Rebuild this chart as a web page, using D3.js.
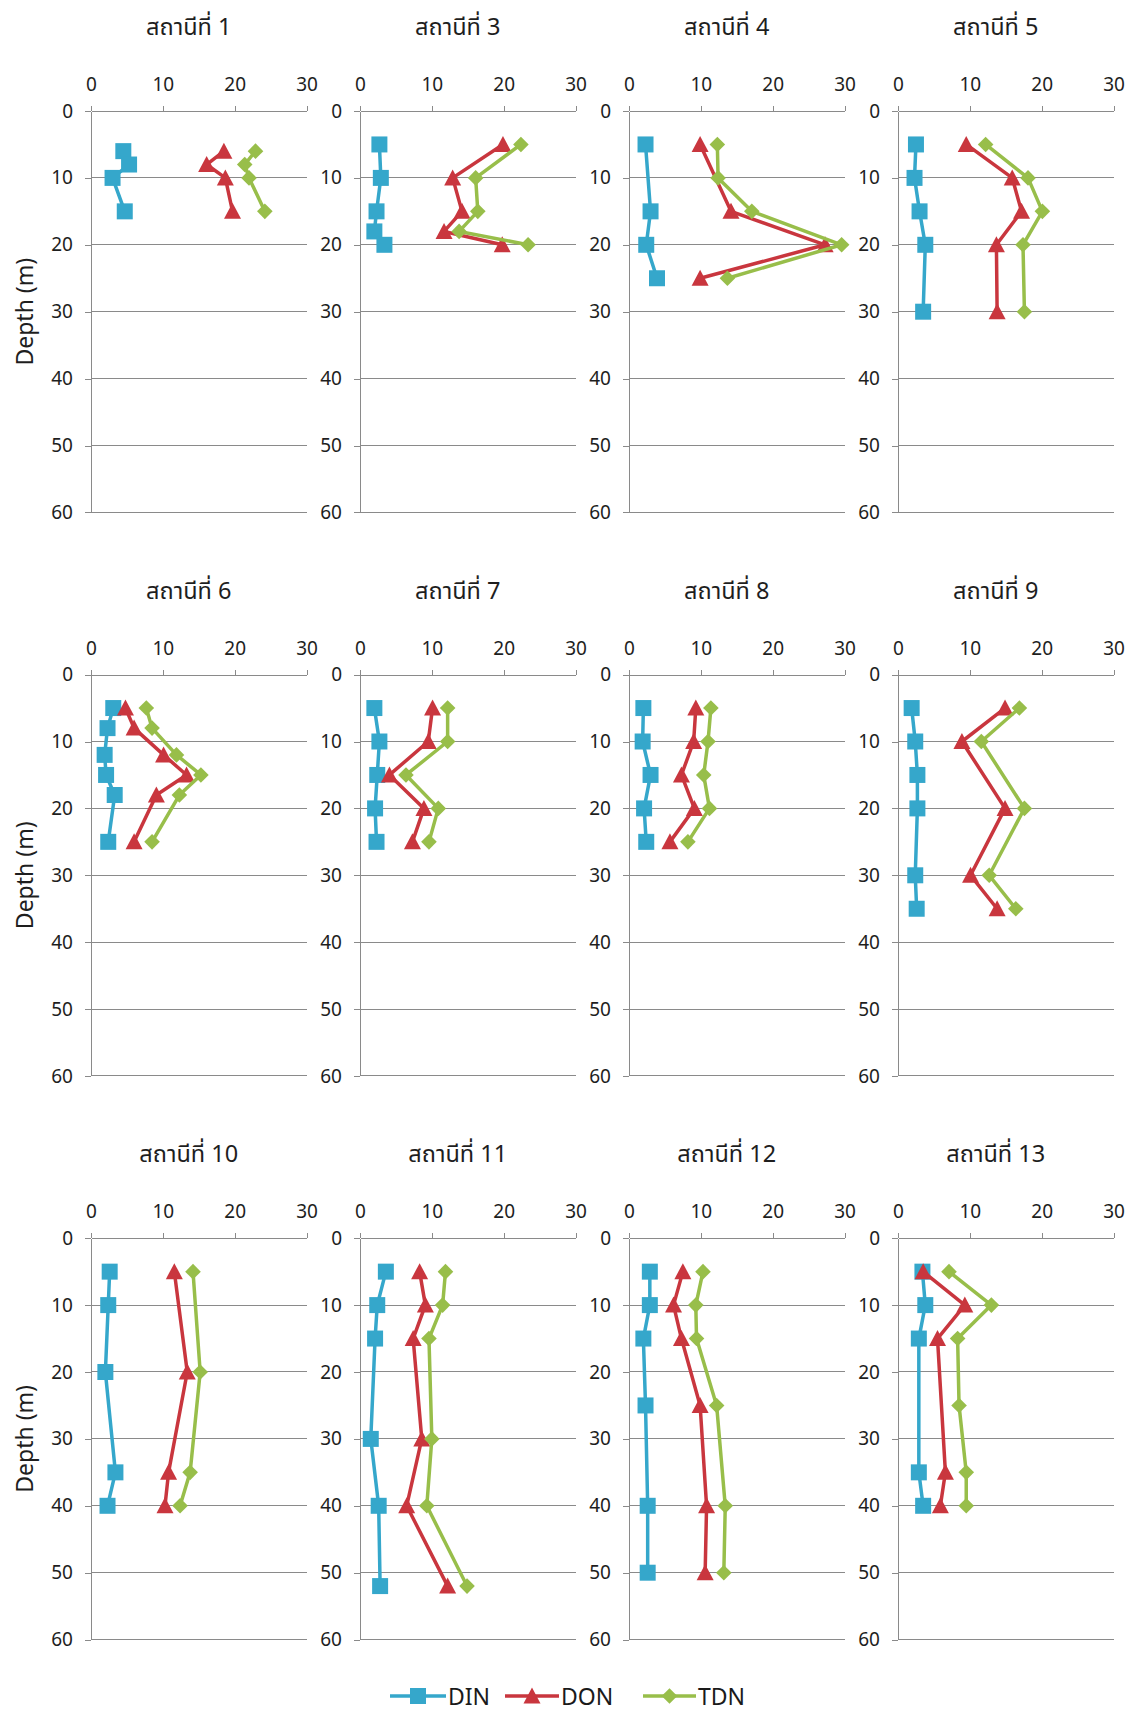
<!DOCTYPE html>
<html>
<head>
<meta charset="utf-8">
<script src="https://cdn.jsdelivr.net/npm/d3@7/dist/d3.min.js"></script>
<style>
  html, body { margin: 0; padding: 0; background: #ffffff; }
  svg { display: block; }
</style>
</head>
<body>
<svg id="chart" width="1139" height="1711"></svg>
<script>
// ---------------- data ----------------
const stations = ["สถานีที่ 1", "สถานีที่ 3", "สถานีที่ 4", "สถานีที่ 5",
                  "สถานีที่ 6", "สถานีที่ 7", "สถานีที่ 8", "สถานีที่ 9",
                  "สถานีที่ 10", "สถานีที่ 11", "สถานีที่ 12", "สถานีที่ 13"];
const seriesNames = ["DIN", "DON", "TDN"];

// depth (m) of each sample, per station
const dinDepth = [[6, 8, 10, 15], [5, 10, 15, 18, 20], [5, 15, 20, 25], [5, 10, 15, 20, 30],
                  [5, 8, 12, 15, 18, 25], [5, 10, 15, 20, 25], [5, 10, 15, 20, 25], [5, 10, 15, 20, 30, 35],
                  [5, 10, 20, 35, 40], [5, 10, 15, 30, 40, 52], [5, 10, 15, 25, 40, 50], [5, 10, 15, 35, 40]];
const dinValue = [[4.5, 5.3, 3.0, 4.7], [2.7, 2.9, 2.3, 2.0, 3.4], [2.3, 3.0, 2.4, 3.9], [2.5, 2.3, 3.0, 3.8, 3.5],
                  [3.1, 2.3, 1.9, 2.1, 3.3, 2.4], [2.0, 2.7, 2.4, 2.1, 2.3], [2.0, 1.9, 3.0, 2.1, 2.4], [1.9, 2.4, 2.7, 2.7, 2.4, 2.6],
                  [2.6, 2.4, 2.0, 3.4, 2.3], [3.6, 2.4, 2.1, 1.5, 2.6, 2.8], [2.9, 2.9, 2.0, 2.3, 2.6, 2.6], [3.4, 3.8, 2.9, 2.9, 3.5]];

const donDepth = [[6, 8, 10, 15], [5, 10, 15, 18, 20], [5, 15, 20, 25], [5, 10, 15, 20, 30],
                  [5, 8, 12, 15, 18, 25], [5, 10, 15, 20, 25], [5, 10, 15, 20, 25], [5, 10, 20, 30, 35],
                  [5, 20, 35, 40], [5, 10, 15, 30, 40, 52], [5, 10, 15, 25, 40, 50], [5, 10, 15, 35, 40]];
const donValue = [[18.5, 16.1, 18.7, 19.7], [19.9, 12.9, 14.2, 11.7, 19.8], [9.9, 14.2, 27.3, 9.9], [9.5, 15.9, 17.2, 13.7, 13.8],
                  [4.8, 6.0, 10.1, 13.3, 9.1, 6.0], [10.1, 9.5, 4.1, 8.9, 7.3], [9.3, 9.0, 7.3, 9.1, 5.7], [14.9, 8.9, 14.9, 10.1, 13.8],
                  [11.6, 13.4, 10.8, 10.3], [8.3, 9.1, 7.4, 8.6, 6.5, 12.2], [7.5, 6.2, 7.3, 9.9, 10.8, 10.6], [3.5, 9.3, 5.5, 6.6, 5.9]];

const tdnDepth = [[6, 8, 10, 15], [5, 10, 15, 18, 20], [5, 10, 15, 20, 25], [5, 10, 15, 20, 30],
                  [5, 8, 12, 15, 18, 25], [5, 10, 15, 20, 25], [5, 10, 15, 20, 25], [5, 10, 20, 30, 35],
                  [5, 20, 35, 40], [5, 10, 15, 30, 40, 52], [5, 10, 15, 25, 40, 50], [5, 10, 15, 25, 35, 40]];
const tdnValue = [[22.9, 21.4, 22.0, 24.2], [22.4, 16.1, 16.4, 13.8, 23.4], [12.3, 12.4, 17.1, 29.6, 13.7], [12.2, 18.1, 20.1, 17.4, 17.6],
                  [7.7, 8.5, 11.9, 15.3, 12.3, 8.5], [12.2, 12.2, 6.4, 10.9, 9.6], [11.4, 11.0, 10.4, 11.2, 8.2], [16.9, 11.6, 17.6, 12.7, 16.4],
                  [14.2, 15.2, 13.8, 12.4], [11.9, 11.5, 9.6, 10.0, 9.3, 14.9], [10.3, 9.3, 9.4, 12.2, 13.4, 13.2], [7.1, 13.0, 8.3, 8.5, 9.5, 9.5]];

const xTicks = [0, 10, 20, 30];
const yTicks = [0, 10, 20, 30, 40, 50, 60];
const yTitle = "Depth (m)";

// ---------------- layout / style ----------------
const colors = ["#35a7cb", "#c9363e", "#98be4a"];
const shapes = ["square", "triangle", "diamond"];
const plotW = 215.5, plotH = 401.4;
const colStep = 269, rowStep = 563.6;
const left0 = 91, top0 = 111;
const gridColor = "#8a8a8a";
const textColor = "#1e1e1e";
const tickFont = "'Noto Sans', 'DejaVu Sans', sans-serif";
const thaiFont = "'Noto Sans Thai', 'Noto Sans Thai UI', 'Loma', 'Garuda', 'Noto Sans', 'DejaVu Sans', sans-serif";

const svg = d3.select("#chart");
const x = d3.scaleLinear().domain([0, 30]).range([0, plotW]);
const y = d3.scaleLinear().domain([0, 60]).range([0, plotH]);

function markerPath(shape) {
  if (shape === "square") return "M-8,-8H8V8H-8Z";
  if (shape === "triangle") return "M0,-8.5L8.5,7.5L-8.5,7.5Z";
  return "M0,-7.8L7.8,0L0,7.8L-7.8,0Z";
}

const depths = [dinDepth, donDepth, tdnDepth];
const values = [dinValue, donValue, tdnValue];

stations.forEach((name, i) => {
  const col = i % 4, row = Math.floor(i / 4);
  const g = svg.append("g")
    .attr("transform", `translate(${left0 + col * colStep},${top0 + row * rowStep})`);

  // horizontal gridlines
  g.append("g").selectAll("line").data(yTicks.slice(1)).join("line")
    .attr("x1", 0).attr("x2", plotW)
    .attr("y1", d => y(d)).attr("y2", d => y(d))
    .attr("stroke", gridColor).attr("stroke-width", 1).attr("shape-rendering", "crispEdges");

  // x axis (top)
  const xa = g.append("g").call(d3.axisTop(x).tickValues(xTicks).tickSize(5).tickSizeOuter(0).tickPadding(15));
  // y axis (left)
  const ya = g.append("g").call(d3.axisLeft(y).tickValues(yTicks).tickSize(6).tickSizeOuter(0).tickPadding(12));
  [xa, ya].forEach(a => {
    a.select(".domain").attr("stroke", gridColor).attr("shape-rendering", "crispEdges");
    a.selectAll(".tick line").attr("stroke", gridColor).attr("shape-rendering", "crispEdges");
    a.selectAll(".tick text").attr("fill", textColor).style("font-family", tickFont).style("font-size", "19px");
  });

  // title
  g.append("text")
    .attr("x", plotW / 2 - 10).attr("y", -76)
    .attr("text-anchor", "middle")
    .attr("fill", textColor)
    .style("font-family", thaiFont).style("font-size", "23.5px").style("font-weight", "normal")
    .text(name);

  // y title on first column
  if (col === 0) {
    g.append("text")
      .attr("transform", `translate(${24 - left0},${plotH / 2}) rotate(-90)`)
      .attr("text-anchor", "middle").attr("dominant-baseline", "central")
      .attr("fill", textColor)
      .style("font-family", tickFont).style("font-size", "23px")
      .text(yTitle);
  }

  // series
  const line = d3.line().x(d => x(d[1])).y(d => y(d[0]));
  [0, 1, 2].forEach(s => {
    const pts = depths[s][i].map((d, k) => [d, values[s][i][k]]);
    g.append("path").datum(pts)
      .attr("d", line).attr("fill", "none")
      .attr("stroke", colors[s]).attr("stroke-width", 3.5).attr("stroke-linejoin", "round");
    g.append("g").selectAll("path").data(pts).join("path")
      .attr("transform", d => `translate(${x(d[1])},${y(d[0])})`)
      .attr("d", markerPath(shapes[s]))
      .attr("fill", colors[s]);
  });
});

// legend
const legendY = 1696;
const legendItems = [
  { x1: 390, x2: 446, text: 448 },
  { x1: 505, x2: 559, text: 561 },
  { x1: 643, x2: 696, text: 698 }
];
const lg = svg.append("g");
seriesNames.forEach((nm, s) => {
  const it = legendItems[s];
  lg.append("line").attr("x1", it.x1).attr("x2", it.x2).attr("y1", legendY).attr("y2", legendY)
    .attr("stroke", colors[s]).attr("stroke-width", 3.5);
  lg.append("path").attr("transform", `translate(${(it.x1 + it.x2) / 2},${legendY})`)
    .attr("d", markerPath(shapes[s])).attr("fill", colors[s]);
  lg.append("text").attr("x", it.text).attr("y", legendY).attr("dominant-baseline", "central")
    .attr("fill", "#1a1a1a")
    .style("font-family", tickFont).style("font-size", "23px")
    .text(nm);
});
</script>
</body>
</html>
